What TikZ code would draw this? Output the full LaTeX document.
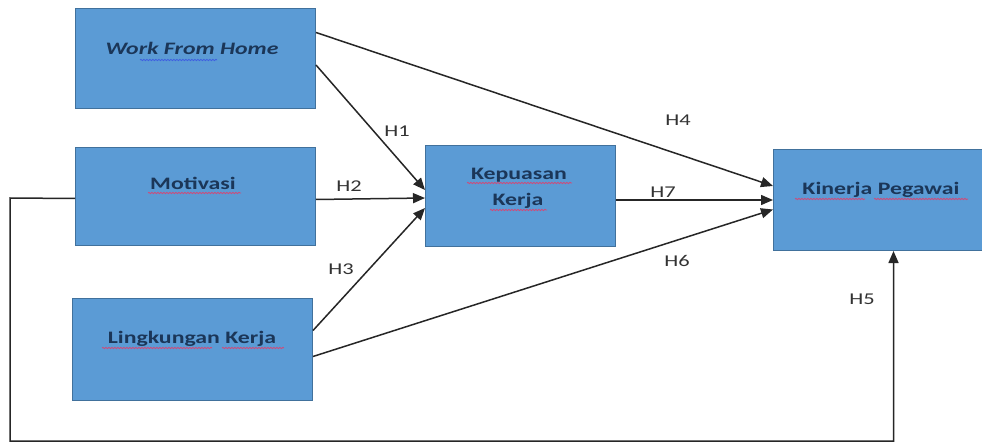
\documentclass[tikz,border=0pt]{standalone}
\usepackage{fontspec}
\usepackage{graphicx}
\setmainfont{Carlito}
\usetikzlibrary{arrows.meta,decorations.pathmorphing}
\definecolor{boxfill}{HTML}{5B9BD5}
\definecolor{boxline}{HTML}{41719C}
\definecolor{boxtext}{HTML}{1B3658}
\definecolor{conn}{HTML}{262626}
\definecolor{labtext}{HTML}{333333}
\definecolor{squigred}{HTML}{D04A78}
\definecolor{squigblue}{HTML}{3F5FE0}
\newcommand{\widetxt}[1]{\scalebox{1.36}[1]{#1}}
\tikzset{
  varbox/.style={draw=boxline, line width=1pt, fill=boxfill, inner sep=0pt, anchor=north west},
  boxlabel/.style={text=boxtext, font=\fontsize{17.5}{20}\selectfont\bfseries, anchor=base, inner sep=0pt},
  hlabel/.style={text=labtext, font=\fontsize{16.5}{18}\selectfont, anchor=base, inner sep=0pt},
  conarrow/.style={draw=conn, line width=1.5pt, -{Triangle[length=12pt,width=10pt]}},
  squig/.style={line width=0.8pt, decorate, decoration={snake, amplitude=0.7pt, segment length=3pt}}
}
\begin{document}
\begin{tikzpicture}[x=1pt,y=1pt]
\useasboundingbox (0,0) rectangle (982,445);
\path[clip] (0,0) rectangle (982,445);
\fill[white] (0,0) rectangle (982,445);
% boxes
\node[varbox, minimum width=240pt, minimum height=100pt] (wfh) at (75,437) {};
\node[varbox, minimum width=240pt, minimum height=98pt] (mot) at (75,298) {};
\node[varbox, minimum width=240pt, minimum height=102pt] (lk) at (72,147) {};
\node[varbox, minimum width=190pt, minimum height=101pt] (kep) at (425,300) {};
\node[varbox, minimum width=216pt, minimum height=101pt] (kin) at (773,296) {};
% box texts
\node[boxlabel] (twfh) at (192,390) {\widetxt{\itshape Work From Home}};
\node[boxlabel] (tmot) at (193,255) {\widetxt{Motivasi}};
\node[boxlabel] (tkep1) at (519,265) {\widetxt{Kepuasan}};
\node[boxlabel] (tkep2) at (518,240) {\widetxt{Kerja}};
\node[boxlabel] (tkin) at (881,250) {\widetxt{Kinerja Pegawai}};
\node[boxlabel] (tlk) at (192,102) {\widetxt{Lingkungan Kerja}};
% spell-check underlines
\draw[squig, squigblue] (140,385) -- (217,385);
\draw[squig, squigred] (148,252) -- (241,252);
\draw[squig, squigred] (467,262) -- (572,262);
\draw[squig, squigred] (490,235) -- (547,235);
\draw[squig, squigred] (795,246) -- (865,246);
\draw[squig, squigred] (874,246) -- (968,246);
\draw[squig, squigred] (102,97) -- (212,97);
\draw[squig, squigred] (222,97) -- (284,97);
% connectors
\draw[conarrow] ([yshift=26pt]wfh.east) -- ([yshift=14pt]kin.west);
\draw[conarrow] ([yshift=-6.5pt]wfh.east) -- ([yshift=6pt]kep.west);
\draw[conarrow] ([yshift=-3pt]mot.east) -- ([yshift=-2pt]kep.west);
\draw[conarrow] ([yshift=19pt]lk.east) -- ([yshift=-12pt]kep.west);
\draw[conarrow] ([yshift=-7pt]lk.east) -- ([yshift=-9.5pt]kin.west);
\draw[conarrow] ([yshift=-4pt]kep.east) -- (kin.west);
\coordinate (fbA) at (10,247);
\coordinate (fbB) at (10,4);
\draw[conarrow] ([yshift=-2pt]mot.west) -- (fbA) -- (fbB) -| ([xshift=12pt]kin.south);
% hypothesis labels
\node[hlabel] (h1) at (397,308) {\widetxt{H1}};
\node[hlabel] (h2) at (349,253) {\widetxt{H2}};
\node[hlabel] (h3) at (341,171) {\widetxt{H3}};
\node[hlabel] (h4) at (678,319) {\widetxt{H4}};
\node[hlabel] (h7) at (663,247) {\widetxt{H7}};
\node[hlabel] (h6) at (677,179) {\widetxt{H6}};
\node[hlabel] (h5) at (862,141) {\widetxt{H5}};
\end{tikzpicture}
\end{document}
